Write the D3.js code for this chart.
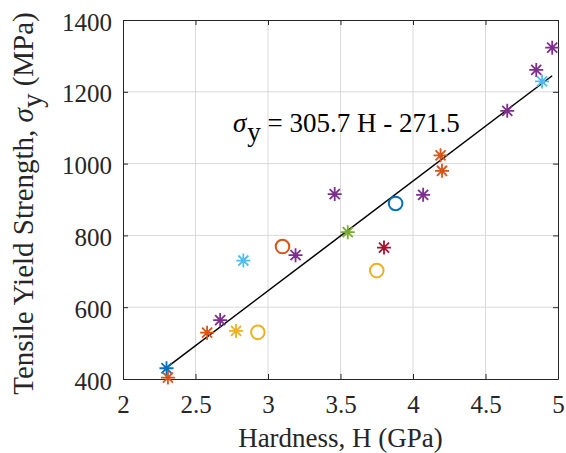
<!DOCTYPE html>
<html>
<head>
<meta charset="utf-8">
<script src="https://cdn.jsdelivr.net/npm/d3@7"></script>
<style>
  body { margin: 0; background: #fff; }
  text { font-family: "Liberation Serif", "Times New Roman", serif; fill: #262626; }
</style>
</head>
<body>
<div id="chart"></div>
<script>
// data
let hardness = [4.96, 4.85, 4.89, 4.65, 4.19, 4.20, 3.46, 4.07, 3.88, 3.55, 3.10, 3.19, 3.80, 2.83, 3.75, 2.67, 2.58, 2.78, 2.93, 2.30, 2.31];
let strength = [1323, 1261, 1229, 1147, 1023, 980, 915, 913, 889, 809, 769, 745, 766, 730, 702, 564, 529, 534, 530, 430, 404];
let markers  = ["star", "star", "star", "star", "star", "star", "star", "star", "circle", "star", "circle", "star", "star", "star", "circle", "star", "star", "star", "circle", "star", "star"];
let colours  = ["#7E2F8E", "#7E2F8E", "#4DBEEE", "#7E2F8E", "#D95319", "#D95319", "#7E2F8E", "#7E2F8E", "#0072BD", "#77AC30", "#D95319", "#7E2F8E", "#A2142F", "#4DBEEE", "#EDB120", "#7E2F8E", "#D95319", "#EDB120", "#EDB120", "#0072BD", "#D95319"];

let xTicks = [2, 2.5, 3, 3.5, 4, 4.5, 5];
let yTicks = [400, 600, 800, 1000, 1200, 1400];

let slope = 305.7, intercept = -271.5;
let fitRange = [2.30, 4.96];

let data = hardness.map(function(h, i) {
    return {h: h, s: strength[i], m: markers[i], c: colours[i]};
});

let W = 566, H = 453;
let mLeft = 123, mRight = 558, mTop = 20, mBottom = 379;
let serif = "'Liberation Serif', 'Times New Roman', serif";

let svg = d3.select("#chart")
    .append("svg")
    .attr("width", W)
    .attr("height", H);

let xScale = d3.scaleLinear().domain([2, 5]).range([mLeft, mRight]);
let yScale = d3.scaleLinear().domain([400, 1400]).range([mBottom, mTop]);

// grid
svg.append("g").selectAll("line").data(xTicks.slice(1, -1)).enter().append("line")
    .attr("x1", d => xScale(d)).attr("x2", d => xScale(d))
    .attr("y1", mTop).attr("y2", mBottom)
    .style("stroke", "#d9d9d9").style("stroke-width", 1);
svg.append("g").selectAll("line").data(yTicks.slice(1, -1)).enter().append("line")
    .attr("y1", d => yScale(d)).attr("y2", d => yScale(d))
    .attr("x1", mLeft).attr("x2", mRight)
    .style("stroke", "#d9d9d9").style("stroke-width", 1);

// axes (ticks pointing inward, box on)
let axisColour = "#262626";
function styleAxis(g) {
    g.attr("font-family", serif).attr("font-size", 25);
    g.select(".domain").style("stroke", axisColour);
    g.selectAll(".tick line").style("stroke", axisColour);
    g.selectAll(".tick text")
        .attr("font-family", serif)
        .attr("font-size", 25)
        .style("fill", axisColour);
}

svg.append("g")
    .attr("transform", "translate(0," + mBottom + ")")
    .call(d3.axisBottom(xScale).tickValues(xTicks).tickFormat(d3.format("")).tickSizeInner(-5).tickSizeOuter(0).tickPadding(16))
    .call(styleAxis);
svg.append("g")
    .attr("transform", "translate(0," + mTop + ")")
    .call(d3.axisTop(xScale).tickValues(xTicks).tickFormat("").tickSizeInner(-5).tickSizeOuter(0))
    .call(styleAxis);
let yAxisG = svg.append("g")
    .attr("transform", "translate(" + mLeft + ",0)")
    .call(d3.axisLeft(yScale).tickValues(yTicks).tickFormat(d3.format("d")).tickSizeInner(-5).tickSizeOuter(0).tickPadding(11))
    .call(styleAxis);
yAxisG.selectAll(".tick text").attr("dy", "0.4em");
svg.append("g")
    .attr("transform", "translate(" + mRight + ",0)")
    .call(d3.axisRight(yScale).tickValues(yTicks).tickFormat("").tickSizeInner(-5).tickSizeOuter(0))
    .call(styleAxis);

// fit line
svg.append("line")
    .attr("x1", xScale(fitRange[0]))
    .attr("y1", yScale(slope * fitRange[0] + intercept))
    .attr("x2", xScale(fitRange[1]))
    .attr("y2", yScale(slope * fitRange[1] + intercept))
    .style("stroke", "#000")
    .style("stroke-width", 1.5);

// points
let pts = svg.append("g").selectAll("g").data(data).enter().append("g")
    .attr("transform", d => "translate(" + xScale(d.h) + "," + yScale(d.s) + ")");

pts.filter(d => d.m === "circle").append("circle")
    .attr("r", 6.8)
    .style("fill", "none")
    .style("stroke", d => d.c)
    .style("stroke-width", 2);

let r = 7, rd = r * 0.72;
pts.filter(d => d.m === "star").append("path")
    .attr("d", "M" + (-r) + ",0L" + r + ",0M0," + (-r) + "L0," + r +
               "M" + (-rd) + "," + (-rd) + "L" + rd + "," + rd +
               "M" + (-rd) + "," + rd + "L" + rd + "," + (-rd))
    .style("fill", "none")
    .style("stroke", d => d.c)
    .style("stroke-width", 1.8);

// equation
let eq = svg.append("text")
    .attr("x", 233)
    .attr("y", 132)
    .attr("font-family", serif)
    .attr("font-size", 27)
    .style("fill", "#000");
eq.append("tspan").style("font-style", "italic").text("σ");
eq.append("tspan").attr("dy", 9).attr("dx", 1).text("y");
eq.append("tspan").attr("dy", -9).text(" = 305.7 H - 271.5");

// axis labels
svg.append("text")
    .attr("x", (mLeft + mRight) / 2)
    .attr("y", 447)
    .attr("text-anchor", "middle")
    .attr("font-family", serif)
    .attr("font-size", 27)
    .text("Hardness, H (GPa)");

let yl = svg.append("text")
    .attr("transform", "translate(33," + ((mTop + mBottom) / 2 + 4) + ") rotate(-90)")
    .attr("text-anchor", "middle")
    .attr("font-family", serif)
    .attr("font-size", 29);
yl.append("tspan").text("Tensile Yield Strength, ");
yl.append("tspan").style("font-style", "italic").text("σ");
yl.append("tspan").attr("dy", 9).text("y");
yl.append("tspan").attr("dy", -9).text(" (MPa)");
</script>
</body>
</html>
